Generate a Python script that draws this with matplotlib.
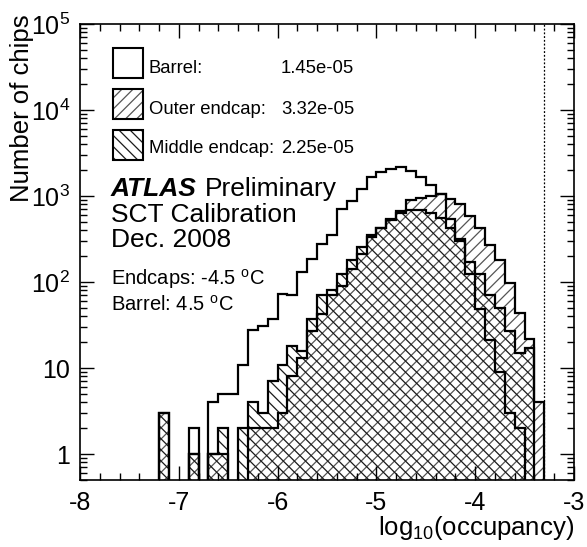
import numpy as np
import matplotlib
matplotlib.use('Agg')
import matplotlib.pyplot as plt
from matplotlib.patches import Rectangle
from matplotlib.ticker import FixedLocator, MultipleLocator, LogLocator, NullFormatter, FixedFormatter

plt.rcParams['font.family'] = ['Liberation Sans', 'DejaVu Sans']
plt.rcParams['mathtext.fontset'] = 'custom'
plt.rcParams['mathtext.rm'] = 'Liberation Sans'
plt.rcParams['mathtext.it'] = 'Liberation Sans:italic'
plt.rcParams['mathtext.bf'] = 'Liberation Sans:bold'
plt.rcParams['axes.unicode_minus'] = False
plt.rcParams['hatch.linewidth'] = 0.9

# log10(occupancy) bins: 0.1 wide, from -8 to -3
edges = np.round(np.linspace(-8.0, -3.0, 51), 2)

# chips per bin
barrel = [0, 0, 0, 0, 0, 0, 0, 0,
          0, 0, 0, 2, 0,
          4, 5, 5, 11, 28, 31, 37,
          73, 70, 130, 185, 280, 355,
          710, 870, 1200, 1650, 1900, 2050,
          2200, 1970, 1680, 1330, 1060, 540,
          315, 125, 49, 21, 9, 3, 2,
          0, 0, 0, 0, 0]
outer = [0, 0, 0, 0, 0, 0, 0, 0,
         3, 0, 0, 1, 0,
         1, 1, 0, 0, 2, 2, 2,
         3, 8, 13, 27, 43, 70,
         90, 142, 212, 330, 425, 520,
         665, 890, 960, 1000, 1060, 930,
         810, 590, 430, 270, 180, 98, 44,
         22, 4, 0, 0, 0]
middle = [0, 0, 0, 0, 0, 0, 0, 0,
          3, 0, 0, 1, 0,
          1, 2, 0, 2, 4, 3, 7,
          11, 18, 16, 37, 70, 80,
          125, 180, 255, 350, 430, 540,
          640, 680, 680, 640, 560, 430,
          300, 170, 125, 70, 50, 27, 15,
          17, 0, 0, 0, 0]

legend_names = ['Barrel:', 'Outer endcap:', 'Middle endcap:']
legend_values = ['1.45e-05', '3.32e-05', '2.25e-05']

x_ticks = [-8, -7, -6, -5, -4, -3]
y_ticks = [1, 10, 100, 1000, 10000, 100000]
y_ticklabels = ['1', '10', r'$\mathregular{10^{2}}$', r'$\mathregular{10^{3}}$',
                r'$\mathregular{10^{4}}$', r'$\mathregular{10^{5}}$']
cut_line = -3.3

W, H = 587, 547
OUTER_HATCH = '#555555'
MIDDLE_HATCH = '#1a1a1a'
FLOOR = 1e-3


def fx(x):
    return x / W


def fy(y):
    return 1 - y / H


def nonzero(vals):
    vals = np.asarray(vals, dtype=float)
    return np.where(vals > 0, vals, FLOOR)


fig = plt.figure(figsize=(W / 100, H / 100), dpi=100)
ax = fig.add_axes([fx(80), fy(480), (574 - 80) / W, (480 - 24) / H])
ax.set_yscale('log')

# hatched fills first (overlap gives the cross-hatch), outlines on top
ax.stairs(nonzero(outer), edges, baseline=FLOOR, fill=True, facecolor='none',
          edgecolor=OUTER_HATCH, hatch='///', linewidth=0)
ax.stairs(nonzero(middle), edges, baseline=FLOOR, fill=True, facecolor='none',
          edgecolor=MIDDLE_HATCH, hatch='\\\\\\', linewidth=0)
for vals in (outer, middle, barrel):
    ax.stairs(nonzero(vals), edges, baseline=FLOOR, color='black', linewidth=1.6)

ax.axvline(cut_line, color='black', linestyle=(0, (1.5, 1.5)), linewidth=0.9)

ax.set_xlim(-8, -3)
ax.set_ylim(0.5, 1e5)

ax.xaxis.set_major_locator(FixedLocator(x_ticks))
ax.xaxis.set_major_formatter(FixedFormatter([str(t) for t in x_ticks]))
ax.xaxis.set_minor_locator(MultipleLocator(0.2))
ax.yaxis.set_major_locator(FixedLocator(y_ticks))
ax.yaxis.set_major_formatter(FixedFormatter(y_ticklabels))
ax.yaxis.set_minor_locator(LogLocator(base=10, subs=np.arange(2, 10), numticks=20))
ax.yaxis.set_minor_formatter(NullFormatter())

ax.tick_params(which='both', direction='in', top=True, right=True, width=1.0)
ax.tick_params(which='major', length=10, labelsize=18)
ax.tick_params(which='minor', length=5)
ax.tick_params(axis='x', which='major', pad=8)
ax.tick_params(axis='y', which='major', pad=7)
for s in ax.spines.values():
    s.set_linewidth(1.2)

# axis titles
fig.text(fx(10), fy(14), 'Number of chips', rotation=90, ha='left', va='top', fontsize=18.5)
fig.text(fx(574), fy(535), r'log$_{\mathregular{10}}$(occupancy)', ha='right',
         va='baseline', fontsize=18.5)

# legend
box_tops = [48, 89, 130]
baselines = [73, 114, 153]
for i, (name, value) in enumerate(zip(legend_names, legend_values)):
    rect = dict(xy=(fx(113), fy(box_tops[i] + 30)), width=30 / W, height=30 / H,
                transform=fig.transFigure)
    if i == 0:
        fig.add_artist(Rectangle(facecolor='white', edgecolor='black', linewidth=1.5, **rect))
    else:
        hatch, col = ('///', OUTER_HATCH) if i == 1 else ('\\\\\\', MIDDLE_HATCH)
        fig.add_artist(Rectangle(facecolor='none', edgecolor=col, hatch=hatch, linewidth=0, **rect))
        fig.add_artist(Rectangle(facecolor='none', edgecolor='black', linewidth=1.5, **rect))
    fig.text(fx(149), fy(baselines[i]), name, fontsize=13.3, va='baseline')
    fig.text(fx(281), fy(baselines[i]), value, fontsize=13.3, va='baseline')

# labels
fig.text(fx(111), fy(196), 'ATLAS', fontsize=19, fontweight='bold', fontstyle='italic', va='baseline')
fig.text(fx(205), fy(196), 'Preliminary', fontsize=19, va='baseline')
fig.text(fx(111), fy(221.5), 'SCT Calibration', fontsize=19, va='baseline')
fig.text(fx(111), fy(247), 'Dec. 2008', fontsize=19, va='baseline')
fig.text(fx(111), fy(285), r'Endcaps: -4.5 $^{\mathregular{o}}$C', fontsize=14.5, va='baseline')
fig.text(fx(111), fy(311), r'Barrel: 4.5 $^{\mathregular{o}}$C', fontsize=14.5, va='baseline')

fig.savefig('out.png', dpi=100)
